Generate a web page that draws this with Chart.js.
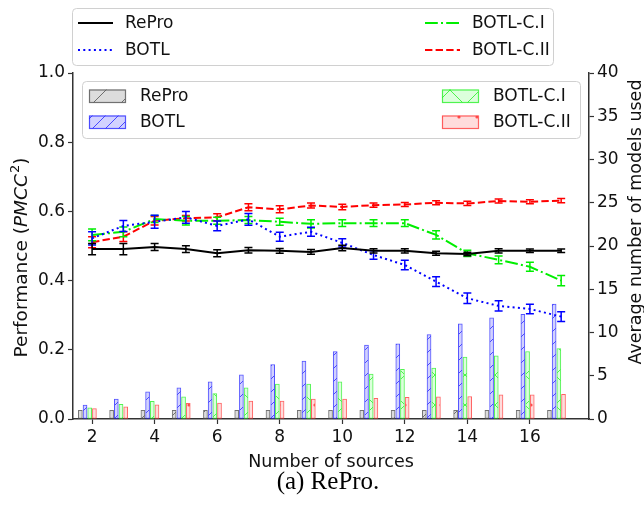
<!DOCTYPE html>
<html>
<head>
<meta charset="utf-8">
<script src="https://cdn.jsdelivr.net/npm/chart.js@4.4.0/dist/chart.umd.min.js"></script>
<style>
    html, body { margin: 0; padding: 0; background: #fff; }
    canvas { display: block; }
</style>
</head>
<body>
<canvas id="chart" width="644" height="506"></canvas>
<script>
// number of sources (x axis)
const sources = [2, 3, 4, 5, 6, 7, 8, 9, 10, 11, 12, 13, 14, 15, 16, 17];
const xTicks = [2, 4, 6, 8, 10, 12, 14, 16];

// performance (left axis)
const reproPerf  = [0.491, 0.491, 0.497, 0.491, 0.479, 0.488, 0.486, 0.483, 0.494, 0.486, 0.486, 0.479, 0.477, 0.486, 0.486, 0.486];
const botlPerf   = [0.522, 0.558, 0.570, 0.583, 0.558, 0.577, 0.527, 0.541, 0.509, 0.474, 0.445, 0.397, 0.349, 0.327, 0.318, 0.296];
const botlC1Perf = [0.532, 0.541, 0.578, 0.573, 0.573, 0.575, 0.570, 0.564, 0.566, 0.566, 0.566, 0.532, 0.479, 0.460, 0.440, 0.400];
const botlC2Perf = [0.511, 0.527, 0.573, 0.580, 0.583, 0.612, 0.606, 0.617, 0.613, 0.618, 0.620, 0.625, 0.623, 0.630, 0.628, 0.631];

// error bar half heights
const reproErr  = [0.016, 0.016, 0.010, 0.010, 0.010, 0.008, 0.007, 0.007, 0.008, 0.006, 0.006, 0.006, 0.005, 0.006, 0.005, 0.005];
const botlErr   = [0.019, 0.016, 0.019, 0.017, 0.014, 0.017, 0.013, 0.013, 0.012, 0.012, 0.014, 0.014, 0.015, 0.015, 0.014, 0.014];
const botlC1Err = [0.017, 0.014, 0.010, 0.012, 0.010, 0.010, 0.010, 0.012, 0.010, 0.010, 0.010, 0.012, 0.009, 0.011, 0.013, 0.015];
const botlC2Err = [0.016, 0.014, 0.012, 0.008, 0.010, 0.010, 0.010, 0.007, 0.008, 0.006, 0.006, 0.006, 0.006, 0.006, 0.006, 0.006];

// average number of models used (right axis)
const reproModels  = [1.0, 1.0, 1.0, 1.0, 1.0, 1.0, 1.0, 1.0, 1.0, 1.0, 1.0, 1.0, 1.0, 1.0, 1.0, 1.0];
const botlModels   = [1.6, 2.3, 3.15, 3.6, 4.3, 5.1, 6.3, 6.7, 7.8, 8.55, 8.7, 9.75, 11.0, 11.7, 12.1, 13.3];
const botlC1Models = [1.3, 1.7, 2.05, 2.55, 2.95, 3.6, 4.05, 4.05, 4.3, 5.2, 5.75, 5.9, 7.15, 7.3, 7.8, 8.15];
const botlC2Models = [1.2, 1.42, 1.65, 1.8, 1.85, 2.08, 2.08, 2.3, 2.3, 2.4, 2.5, 2.55, 2.6, 2.8, 2.8, 2.85];

const FONT = 'DejaVu Sans';

// hatch fills like matplotlib's hatch=
function hatch(kind, fill, stroke, size) {
    const c = document.createElement('canvas');
    c.width = size; c.height = size;
    const g = c.getContext('2d');
    g.fillStyle = fill;
    g.fillRect(0, 0, size, size);
    g.strokeStyle = stroke;
    g.fillStyle = stroke;
    g.lineWidth = 1;
    if (kind.includes('/')) {
        g.beginPath();
        g.moveTo(0, size); g.lineTo(size, 0);
        g.moveTo(-2, 2); g.lineTo(2, -2);
        g.moveTo(size - 2, size + 2); g.lineTo(size + 2, size - 2);
        g.stroke();
    }
    if (kind.includes('\\')) {
        g.beginPath();
        g.moveTo(0, 0); g.lineTo(size, size);
        g.moveTo(size - 2, -2); g.lineTo(size + 2, 2);
        g.moveTo(-2, size - 2); g.lineTo(2, size + 2);
        g.stroke();
    }
    if (kind.includes('.')) {
        g.beginPath();
        g.arc(size / 2, size / 2, 1.6, 0, Math.PI * 2);
        g.fill();
    }
    return g.createPattern(c, 'repeat');
}

const lineSeries = [
    { label: 'RePro',     data: reproPerf,  err: reproErr,  color: '#000000', dash: [] },
    { label: 'BOTL',      data: botlPerf,   err: botlErr,   color: '#0000ff', dash: [2, 3.3] },
    { label: 'BOTL-C.I',  data: botlC1Perf, err: botlC1Err, color: '#00ee00', dash: [12.8, 3.2, 2, 3.2] },
    { label: 'BOTL-C.II', data: botlC2Perf, err: botlC2Err, color: '#ff0000', dash: [7.4, 3.2] }
];

const barSeries = [
    { label: 'RePro',     data: reproModels,  offset: -0.375, edge: 'rgba(90,90,90,0.85)',  fill: hatch('/', '#dcdcdc', 'rgba(90,90,90,0.85)', 28) },
    { label: 'BOTL',      data: botlModels,   offset: -0.225, edge: 'rgba(40,40,255,0.8)',  fill: hatch('/', '#d2d2ff', 'rgba(40,40,255,0.8)', 13) },
    { label: 'BOTL-C.I',  data: botlC1Models, offset: -0.075, edge: 'rgba(40,240,40,0.8)',  fill: hatch('/\\', '#dcffdc', 'rgba(40,240,40,0.8)', 30) },
    { label: 'BOTL-C.II', data: botlC2Models, offset: 0.075,  edge: 'rgba(255,60,60,0.8)',  fill: hatch('.', '#ffdcdc', 'rgba(255,60,60,0.9)', 18) }
];

const datasets = [];
lineSeries.forEach(s => {
    datasets.push({
        type: 'line',
        label: s.label,
        data: sources.map((x, i) => ({ x: x, y: s.data[i] })),
        borderColor: s.color,
        borderWidth: 2,
        borderDash: s.dash,
        pointRadius: 0,
        tension: 0,
        fill: false,
        yAxisID: 'y',
        order: 1,
        err: s.err
    });
});
barSeries.forEach(s => {
    datasets.push({
        type: 'bar',
        label: s.label,
        data: sources.map((x, i) => ({ x: x + s.offset, y: s.data[i] })),
        backgroundColor: s.fill,
        borderColor: s.edge,
        borderWidth: 1,
        borderSkipped: false,
        barThickness: 4,
        grouped: false,
        yAxisID: 'y1',
        order: 2
    });
});

// error bars with caps, drawn right after each line
const errorBars = {
    id: 'errorBars',
    afterDatasetDraw(chart, args) {
        const ds = chart.data.datasets[args.index];
        if (!ds.err) return;
        const ctx = chart.ctx;
        const xs = chart.scales.x, ys = chart.scales.y;
        ctx.save();
        ctx.strokeStyle = ds.borderColor;
        ctx.lineWidth = 1.5;
        ds.data.forEach((p, i) => {
            const px = xs.getPixelForValue(p.x);
            const top = ys.getPixelForValue(p.y + ds.err[i]);
            const bot = ys.getPixelForValue(p.y - ds.err[i]);
            ctx.beginPath();
            ctx.moveTo(px, top); ctx.lineTo(px, bot);
            ctx.moveTo(px - 4, top); ctx.lineTo(px + 4, top);
            ctx.moveTo(px - 4, bot); ctx.lineTo(px + 4, bot);
            ctx.stroke();
        });
        ctx.restore();
    }
};

function legendBox(ctx, x0, y0, x1, y1) {
    const r = 4;
    ctx.beginPath();
    ctx.moveTo(x0 + r, y0);
    ctx.arcTo(x1, y0, x1, y1, r);
    ctx.arcTo(x1, y1, x0, y1, r);
    ctx.arcTo(x0, y1, x0, y0, r);
    ctx.arcTo(x0, y0, x1, y0, r);
    ctx.closePath();
    ctx.fillStyle = 'rgba(255,255,255,0.8)';
    ctx.fill();
    ctx.strokeStyle = '#d0d0d0';
    ctx.lineWidth = 1;
    ctx.stroke();
}

// legends, axis titles and caption
const decorations = {
    id: 'decorations',
    afterDraw(chart) {
        const ctx = chart.ctx;
        ctx.save();
        ctx.textBaseline = 'middle';
        ctx.textAlign = 'left';
        ctx.font = '17px "' + FONT + '"';

        // top legend (lines)
        legendBox(ctx, 72.5, 8.5, 553.5, 65.5);
        const lineSlots = [[78, 23], [78, 50], [425, 23], [425, 50]];
        lineSeries.forEach((s, n) => {
            const [lx, ly] = lineSlots[n];
            ctx.strokeStyle = s.color;
            ctx.lineWidth = 2;
            ctx.setLineDash(s.dash);
            ctx.beginPath();
            ctx.moveTo(lx, ly); ctx.lineTo(lx + 35, ly);
            ctx.stroke();
            ctx.setLineDash([]);
            ctx.fillStyle = '#111';
            ctx.fillText(s.label, lx + 47, ly + 1);
        });

        // inner legend (bars)
        legendBox(ctx, 82.5, 81.5, 580.5, 138.5);
        const barSlots = [[89, 96], [89, 122], [442, 96], [442, 122]];
        barSeries.forEach((s, n) => {
            const [bx, by] = barSlots[n];
            ctx.fillStyle = s.fill;
            ctx.fillRect(bx, by - 6.5, 36, 13);
            ctx.strokeStyle = s.edge;
            ctx.lineWidth = 1.2;
            ctx.strokeRect(bx + 0.5, by - 6, 36, 12.5);
            ctx.fillStyle = '#111';
            ctx.fillText(s.label, bx + 51, by + 1);
        });

        const area = chart.chartArea;

        // left title: Performance (PMCC^2)
        ctx.save();
        ctx.translate(20, 258);
        ctx.rotate(-Math.PI / 2);
        ctx.textBaseline = 'alphabetic';
        const parts = [
            { t: 'Performance (', f: '18.5px "' + FONT + '"', dy: 0 },
            { t: 'PMCC', f: 'oblique 18.5px "' + FONT + '"', dy: 0 },
            { t: '2', f: '13px "' + FONT + '"', dy: -8 },
            { t: ')', f: '18.5px "' + FONT + '"', dy: 0 }
        ];
        let total = 0;
        parts.forEach(p => { ctx.font = p.f; p.w = ctx.measureText(p.t).width; total += p.w; });
        let cx = -total / 2;
        ctx.fillStyle = '#111';
        parts.forEach(p => {
            ctx.font = p.f;
            ctx.fillText(p.t, cx, 6.5 + p.dy);
            cx += p.w + (p.t === 'PMCC' ? 1 : 0);
        });
        ctx.restore();

        // right title
        ctx.save();
        ctx.translate(635, 222);
        ctx.rotate(-Math.PI / 2);
        ctx.textAlign = 'center';
        ctx.textBaseline = 'alphabetic';
        ctx.font = '17.5px "' + FONT + '"';
        ctx.fillStyle = '#111';
        ctx.fillText('Average number of models used', 0, 6);
        ctx.restore();

        // x title and caption
        ctx.textAlign = 'center';
        ctx.fillStyle = '#111';
        ctx.font = '17.5px "' + FONT + '"';
        ctx.fillText('Number of sources', (area.left + area.right) / 2, 462);
        ctx.font = '25px "Liberation Serif"';
        ctx.fillStyle = '#000';
        ctx.fillText('(a) RePro.', 328, 482);
        ctx.restore();
    }
};

const tickFont = { family: FONT, size: 17 };
const axisColor = '#333';

new Chart(document.getElementById('chart').getContext('2d'), {
    type: 'bar',
    data: { datasets: datasets },
    options: {
        responsive: false,
        animation: false,
        devicePixelRatio: 1,
        layout: { padding: { top: 73, left: 0, right: 0, bottom: 0 } },
        plugins: {
            legend: { display: false },
            tooltip: { enabled: false }
        },
        scales: {
            x: {
                type: 'linear',
                min: 1.39,
                max: 17.89,
                offset: false,
                afterFit: s => { s.height = 87; },
                afterBuildTicks: s => { s.ticks = xTicks.map(v => ({ value: v })); },
                grid: { display: true, offset: false, drawOnChartArea: false, tickLength: 5, tickWidth: 1.2, color: axisColor },
                border: { display: true, color: axisColor, width: 1.5 },
                ticks: { font: tickFont, color: '#111', padding: 3, maxRotation: 0, autoSkip: false }
            },
            y: {
                position: 'left',
                min: 0,
                max: 1,
                afterFit: s => { s.width = 73; },
                grid: { display: true, drawOnChartArea: false, tickLength: 5, tickWidth: 1.2, color: axisColor },
                border: { display: true, color: axisColor, width: 1.5 },
                ticks: { stepSize: 0.2, font: tickFont, color: '#111', padding: 3, callback: v => v.toFixed(1) }
            },
            y1: {
                position: 'right',
                min: 0,
                max: 40,
                afterFit: s => { s.width = 55; },
                grid: { display: true, drawOnChartArea: false, tickLength: 5, tickWidth: 1.2, color: axisColor },
                border: { display: true, color: axisColor, width: 1.5 },
                ticks: { stepSize: 5, font: tickFont, color: '#111', padding: 3 }
            }
        }
    },
    plugins: [errorBars, decorations]
});
</script>
</body>
</html>
